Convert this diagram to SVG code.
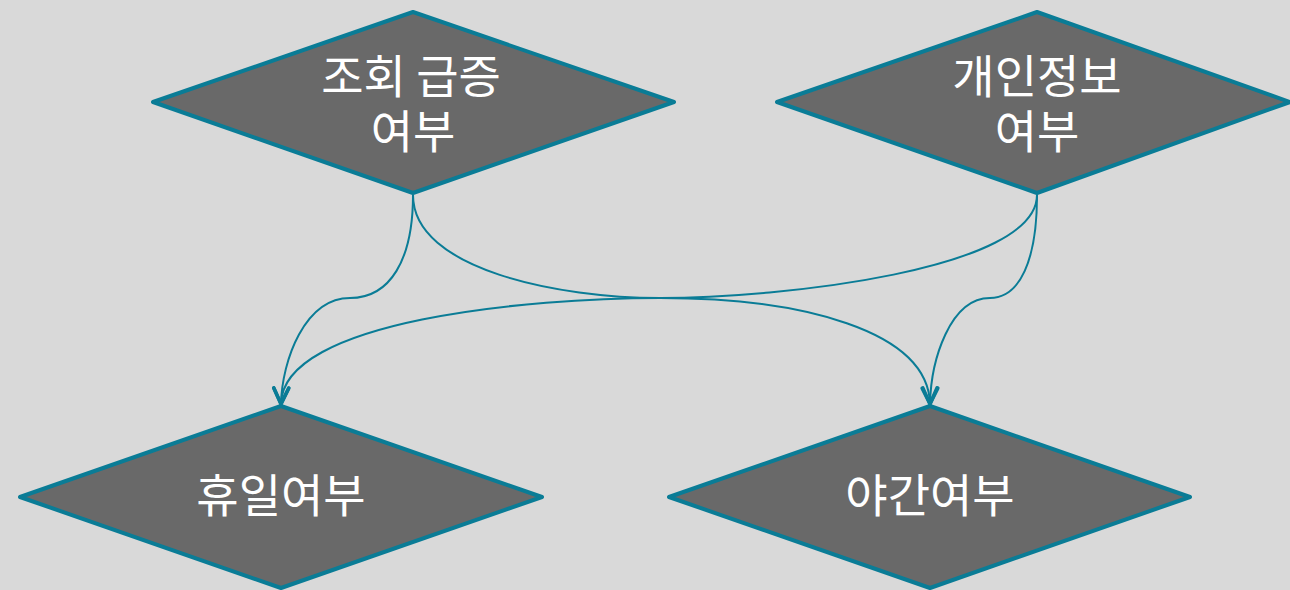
<svg xmlns="http://www.w3.org/2000/svg" width="1290" height="590" viewBox="0 0 1290 590">
<style>
.node polygon{fill:#696969;stroke:#0a7c96;stroke-width:4;stroke-linejoin:round}
.node text{fill:#ffffff;font-family:"Noto Sans CJK KR","Noto Sans",sans-serif;font-size:46px;text-anchor:middle}
.edge{fill:none;stroke:#0a7c96;stroke-width:2}
</style>
<defs>
<marker id="arr" viewBox="0 0 20 20" refX="18" refY="10" markerWidth="20" markerHeight="20" markerUnits="userSpaceOnUse" orient="auto" overflow="visible">
<polyline points="2,2.5 18,10 2,17.5" fill="none" stroke="#0a7c96" stroke-width="3.5" stroke-linecap="round" stroke-linejoin="round"/>
</marker>
</defs>
<rect width="1290" height="590" fill="#d9d9d9"/>
<g id="connectors">
<path class="edge" d="M413,195 C413,260 390,298 350,298 C305,298 282,360 281,404" marker-end="url(#arr)"/>
<path class="edge" d="M413,195 C413,270 560,298 660,298 C800,298 928,330 930,404" marker-end="url(#arr)"/>
<path class="edge" d="M1037,195 C1037,270 780,298 660,298 C530,298 282,320 281,404" marker-end="url(#arr)"/>
<path class="edge" d="M1037,195 C1037,260 1020,298 990,298 C950,298 931,360 930,404" marker-end="url(#arr)"/>
</g>
<g id="node1" class="node">
<polygon points="153,102 413,12 674,102 413,193"/>
<text x="411" y="93">조회 급증</text>
<text x="413" y="148">여부</text>
</g>
<g id="node2" class="node">
<polygon points="777,102 1037,12 1290,102 1037,193"/>
<text x="1037" y="93">개인정보</text>
<text x="1037" y="148">여부</text>
</g>
<g id="node3" class="node">
<polygon points="20,497 281,406 542,497 281,588"/>
<text x="281" y="512">휴일여부</text>
</g>
<g id="node4" class="node">
<polygon points="669,497 930,406 1190,497 930,588"/>
<text x="930" y="512">야간여부</text>
</g>
</svg>
